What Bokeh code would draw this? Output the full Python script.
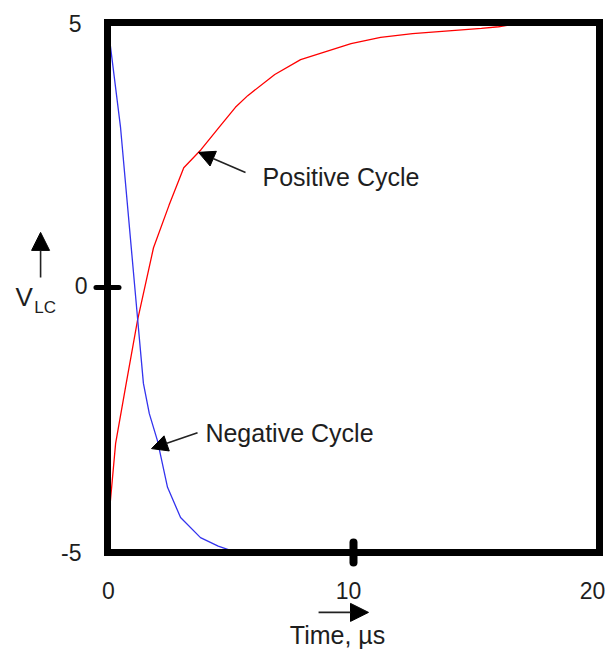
import math
from bokeh.plotting import figure
from bokeh.models import Range1d, Arrow, NormalHead, Label
from bokeh.core.properties import value
from bokeh.embed import file_html
from bokeh.resources import INLINE

# ---- data ----
time_pos = [0.0, 0.12, 0.33, 0.73, 1.22, 1.87, 2.5, 3.1, 3.8, 4.6, 5.2, 5.7, 6.8, 7.85, 9.9, 11.1, 12.4, 15.2, 15.9, 17.0, 20.0]
v_pos = [-4.7, -4.02, -2.94, -1.89, -0.62, 0.75, 1.55, 2.26, 2.6, 3.06, 3.4, 3.62, 4.02, 4.3, 4.6, 4.72, 4.79, 4.89, 4.92, 5.0, 5.0]
time_neg = [0.08, 0.53, 1.22, 1.46, 1.7, 2.03, 2.44, 2.97, 3.78, 4.5, 5.0, 5.5]
v_neg = [4.7, 3.02, -0.57, -1.81, -2.38, -2.89, -3.77, -4.34, -4.72, -4.88, -4.96, -5.0]
x_ticks = [0, 10, 20]
x_tick_labels = ["0", "10", "20"]
y_ticks = [-5, 0, 5]
y_tick_labels = ["-5", "0", "5"]
x_lo, x_hi = 0, 20
y_lo, y_hi = -5, 5

FONT = value("Liberation Sans")
TXT = "#1e1e1e"

p = figure(width=610, height=650,
           x_range=Range1d(-4.3496, 20.4472), y_range=Range1d(-6.8491, 5.4151),
           output_backend="svg", toolbar_location=None, min_border=0,
           x_axis_location=None, y_axis_location=None)
p.grid.visible = False
p.outline_line_color = None
p.background_fill_color = "white"
p.border_fill_color = "white"

p.line(time_pos, v_pos, line_color="#ff0000", line_width=1.3)
p.line(time_neg, v_neg, line_color="#3333ee", line_width=1.3)

# frame box
p.quad(left=[x_lo], right=[x_hi], bottom=[y_lo], top=[y_hi], fill_color=None,
       line_color="black", line_width=7, line_join="miter")

# single tick marks
p.scatter([x_ticks[1]], [y_lo], marker="dash", size=20, line_width=8, angle=math.pi / 2,
          line_color="black", line_cap="round")
p.scatter([x_lo], [y_ticks[1]], marker="dash", size=23, line_width=5,
          line_color="black", line_cap="round")

# tick labels
p.text(x=x_ticks, y=[y_lo] * len(x_ticks), text=x_tick_labels, text_align="center",
       text_baseline="middle", x_offset=[1, -5, -7], y_offset=38,
       text_font=FONT, text_font_size="23px", text_color=TXT)
p.text(x=[x_lo] * len(y_ticks), y=y_ticks, text=y_tick_labels, text_align="right",
       text_baseline="middle", x_offset=[-26, -20, -26], y_offset=[0, -2, 1],
       text_font=FONT, text_font_size="23px", text_color=TXT)

# annotations
def lab(x, y, t, size="25px", align="left"):
    p.add_layout(Label(x=x, y=y, text=t, text_align=align, text_baseline="middle",
                       text_font="Liberation Sans", text_font_size=size, text_color=TXT))

lab(6.30, 2.09, "Positive Cycle")
lab(3.98, -2.74, "Negative Cycle")
lab(9.35, -6.55, "Time, \u00b5s", align="center")
lab(-3.74, -0.17, "V", size="26px")
lab(-2.98, -0.38, "LC", size="17px")

def arr(x0, y0, x1, y1, size=16):
    p.add_layout(Arrow(end=NormalHead(size=size, fill_color="black", line_color="black"),
                       x_start=x0, y_start=y0, x_end=x1, y_end=y1,
                       line_width=1.6, line_color="#222222"))

arr(5.61, 2.17, 3.70, 2.55)
arr(3.66, -2.74, 1.79, -3.04)
arr(-2.72, 0.19, -2.72, 1.04, size=18)
arr(8.58, -6.13, 10.61, -6.13, size=18)

open("out.html", "w").write(file_html(p, INLINE))
